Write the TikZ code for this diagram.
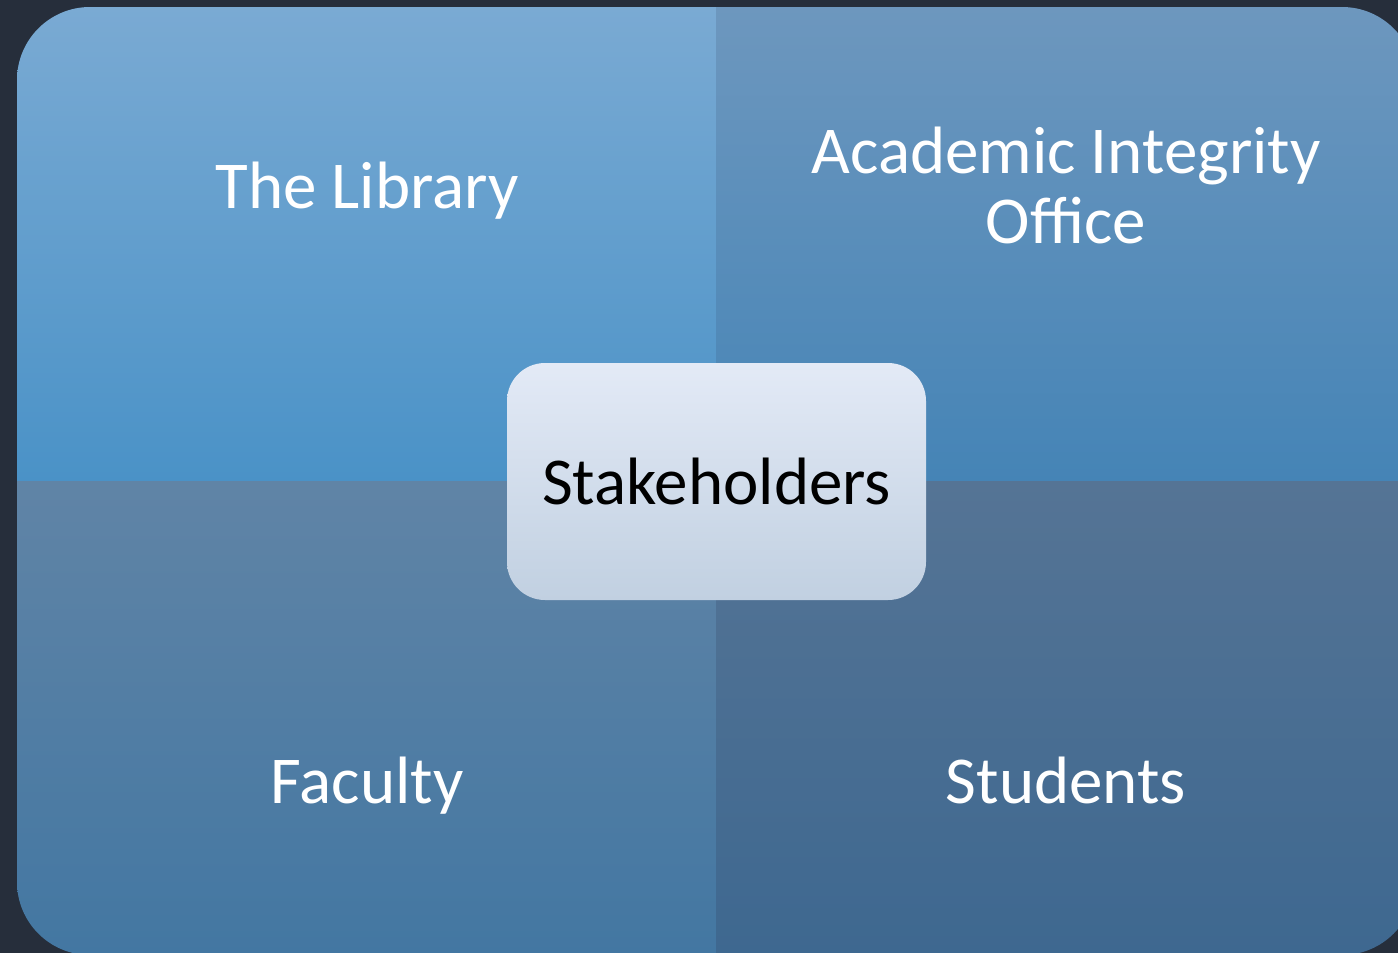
\documentclass[tikz,border=0pt]{standalone}
\usepackage{fontspec}
\setmainfont{Carlito}
\definecolor{bgdark}{HTML}{262E3B}
\definecolor{tlTop}{HTML}{7AAAD3}
\definecolor{tlBot}{HTML}{4A92C7}
\definecolor{trTop}{HTML}{6D97BE}
\definecolor{trBot}{HTML}{4584B6}
\definecolor{blTop}{HTML}{6084A6}
\definecolor{blBot}{HTML}{4377A2}
\definecolor{brTop}{HTML}{557495}
\definecolor{brBot}{HTML}{3E6890}
\definecolor{cTop}{HTML}{E3EAF6}
\definecolor{cBot}{HTML}{C1D0E1}
\begin{document}
\begin{tikzpicture}[x=1pt,y=-1pt,
  quadlabel/.style={text=white, anchor=base, align=center, inner sep=0pt,
    font=\fontsize{67}{70}\selectfont},
  centerbox/.style={rounded corners=38pt, top color=cTop, bottom color=cBot,
    minimum width=419pt, minimum height=237pt, inner sep=0pt,
    font=\fontsize{67}{72}\selectfont, text=black}]
\useasboundingbox (0,0) rectangle (1398,953);
\fill[bgdark] (0,0) rectangle (1398,953);
\begin{scope}
  \clip[rounded corners=73pt] (17,7) rectangle (1415,955);
  \shade[top color=tlTop, bottom color=tlBot] (17,7) rectangle (716,481);
  \shade[top color=trTop, bottom color=trBot] (716,7) rectangle (1415,481);
  \shade[top color=blTop, bottom color=blBot] (17,481) rectangle (716,955);
  \shade[top color=brTop, bottom color=brBot] (716,481) rectangle (1415,955);
\end{scope}
\node[quadlabel] (lib) at (367,208) {The Library};
\node[quadlabel, anchor=north] (aio) at (1066,127) {Academic Integrity\\Office};
\node[quadlabel] (fac) at (367,803) {Faculty};
\node[quadlabel] (stu) at (1066,803) {Students};
\node[centerbox] (stake) at (716.5,481.5) {\raisebox{-3pt}{Stakeholders}};
\end{tikzpicture}
\end{document}
